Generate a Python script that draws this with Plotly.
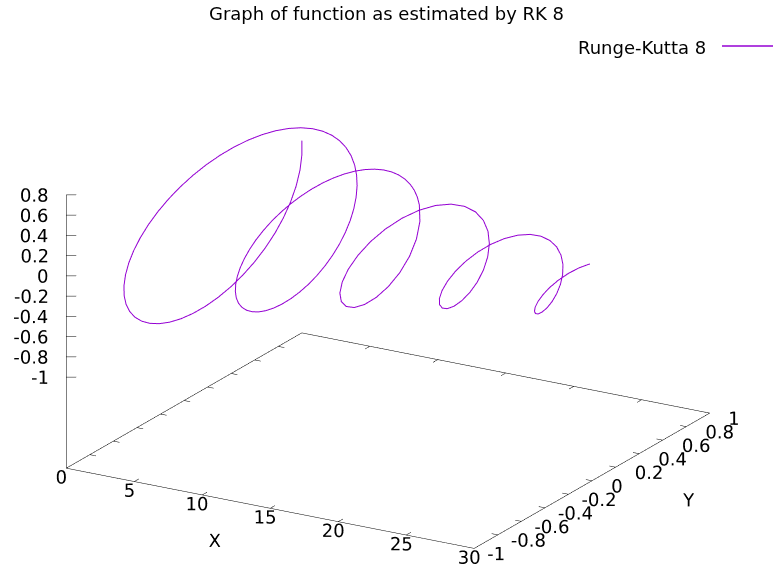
import plotly.graph_objects as go
import math

# ---------------- data (RK 8 solution samples) ----------------
x_vals = [0.000, 0.262, 0.524, 0.785, 1.047, 1.309, 1.571, 1.833, 2.094, 2.356, 2.618, 2.880,
          3.142, 3.403, 3.665, 3.927, 4.189, 4.451, 4.712, 4.974, 5.236, 5.498, 5.760, 6.021,
          6.283, 6.545, 6.807, 7.069, 7.330, 7.592, 7.854, 8.116, 8.378, 8.639, 8.901, 9.163,
          9.425, 9.687, 9.948, 10.210, 10.472, 10.734, 10.996, 11.257, 11.519, 11.781, 12.043, 12.305,
          12.566, 12.828, 13.090, 13.352, 13.614, 13.875, 14.137, 14.399, 14.661, 14.923, 15.184, 15.446,
          15.708, 15.970, 16.232, 16.493, 16.755, 17.017, 17.279, 17.541, 17.802, 18.064, 18.326, 18.588,
          18.850, 19.111, 19.373, 19.635, 19.897, 20.159, 20.420, 20.682, 20.944, 21.206, 21.468, 21.729,
          21.991, 22.253, 22.515, 22.777, 23.038, 23.300, 23.562, 23.824, 24.086, 24.347, 24.609, 24.871,
          25.133, 25.395, 25.656, 25.918, 26.180, 26.442, 26.704, 26.965, 27.227, 27.489, 27.751, 28.013,
          28.274, 28.536, 28.798, 29.060, 29.322, 29.583, 29.845]

y_vals = [1.0, 0.9539, 0.8445, 0.6810, 0.4755, 0.2431, 0.0, -0.2370, -0.4522, -0.6315, -0.7638, -0.8412,
          -0.8600, -0.8203, -0.7263, -0.5856, -0.4089, -0.2090, 0.0, 0.2039, 0.3889, 0.5431, 0.6569, 0.7235,
          0.7396, 0.7055, 0.6246, 0.5037, 0.3517, 0.1798, 0.0, -0.1753, -0.3345, -0.4671, -0.5649, -0.6222,
          -0.6361, -0.6068, -0.5372, -0.4332, -0.3025, -0.1546, 0.0, 0.1508, 0.2876, 0.4017, 0.4858, 0.5351,
          0.5471, 0.5218, 0.4620, 0.3725, 0.2601, 0.1330, 0.0, -0.1297, -0.2474, -0.3455, -0.4178, -0.4602,
          -0.4705, -0.4488, -0.3973, -0.3204, -0.2237, -0.1144, 0.0, 0.1115, 0.2127, 0.2971, 0.3593, 0.3958,
          0.4046, 0.3860, 0.3417, 0.2755, 0.1924, 0.0983, 0.0, -0.0959, -0.1830, -0.2555, -0.3090, -0.3404,
          -0.3480, -0.3319, -0.2939, -0.2370, -0.1655, -0.0846, 0.0, 0.0825, 0.1574, 0.2198, 0.2658, 0.2927,
          0.2993, 0.2855, 0.2527, 0.2038, 0.1423, 0.0727, 0.0, -0.0709, -0.1353, -0.1890, -0.2286, -0.2518,
          -0.2574, -0.2455, -0.2174, -0.1753, -0.1224, -0.0626, 0.0]

z_vals = [0.0, -0.2556, -0.4876, -0.6810, -0.8236, -0.9071, -0.9274, -0.8846, -0.7832, -0.6315, -0.4410, -0.2254,
          0.0, 0.2198, 0.4193, 0.5856, 0.7083, 0.7801, 0.7976, 0.7608, 0.6736, 0.5431, 0.3792, 0.1939,
          0.0, -0.1890, -0.3606, -0.5037, -0.6091, -0.6709, -0.6859, -0.6543, -0.5793, -0.4671, -0.3262, -0.1667,
          0.0, 0.1626, 0.3102, 0.4332, 0.5239, 0.5770, 0.5899, 0.5627, 0.4982, 0.4017, 0.2805, 0.1434,
          0.0, -0.1398, -0.2667, -0.3725, -0.4505, -0.4962, -0.5073, -0.4839, -0.4285, -0.3455, -0.2412, -0.1233,
          0.0, 0.1203, 0.2294, 0.3204, 0.3875, 0.4268, 0.4363, 0.4162, 0.3685, 0.2971, 0.2075, 0.1061,
          0.0, -0.1034, -0.1973, -0.2755, -0.3332, -0.3670, -0.3752, -0.3579, -0.3169, -0.2555, -0.1784, -0.0912,
          0.0, 0.0889, 0.1697, 0.2370, 0.2866, 0.3157, 0.3227, 0.3078, 0.2725, 0.2198, 0.1535, 0.0784,
          0.0, -0.0765, -0.1459, -0.2038, -0.2465, -0.2715, -0.2775, -0.2647, -0.2344, -0.1890, -0.1320, -0.0675,
          0.0, 0.0658, 0.1255, 0.1753, 0.2120, 0.2335, 0.2387]

# extra (half-step) samples on the two large first turns
x_half = [0.131, 0.393, 0.654, 0.916, 1.178, 1.440, 1.702, 1.963, 2.225, 2.487, 2.749, 3.011,
          3.272, 3.534, 3.796, 4.058, 4.320, 4.581, 4.843, 5.105, 5.367, 5.629, 5.890, 6.152,
          6.414, 6.676, 6.938, 7.199, 7.461, 7.723, 7.985, 8.247, 8.508, 8.770, 9.032, 9.294,
          9.556, 9.817, 10.079, 10.341, 10.603, 10.865, 11.126, 11.388, 11.650, 11.912, 12.174, 12.435]
y_half = [0.9852, 0.9066, 0.7688, 0.5826, 0.3616, 0.1218, -0.1203, -0.3483, -0.5471, -0.7041, -0.8097, -0.8580,
          -0.8473, -0.7797, -0.6612, -0.5010, -0.3110, -0.1048, 0.1035, 0.2995, 0.4705, 0.6055, 0.6963, 0.7379,
          0.7287, 0.6706, 0.5686, 0.4309, 0.2675, 0.0901, -0.0890, -0.2576, -0.4046, -0.5208, -0.5989, -0.6346,
          -0.6267, -0.5767, -0.4890, -0.3706, -0.2300, -0.0775, 0.0765, 0.2215, 0.3480, 0.4479, 0.5150, 0.5458]
z_half = [-0.1297, -0.3755, -0.5899, -0.7592, -0.8731, -0.9252, -0.9137, -0.8408, -0.7130, -0.5403, -0.3354, -0.1130,
          0.1116, 0.3230, 0.5074, 0.6529, 0.7509, 0.7957, 0.7858, 0.7231, 0.6132, 0.4646, 0.2884, 0.0972,
          -0.0959, -0.2778, -0.4363, -0.5615, -0.6458, -0.6843, -0.6758, -0.6219, -0.5273, -0.3996, -0.2481, -0.0836,
          0.0825, 0.2389, 0.3753, 0.4829, 0.5554, 0.5885, 0.5812, 0.5348, 0.4535, 0.3437, 0.2133, 0.0719]

x_ticks = [0, 5, 10, 15, 20, 25, 30]
x_tick_labels = ["0", "5", "10", "15", "20", "25", "30"]
y_ticks = [-1, -0.8, -0.6, -0.4, -0.2, 0, 0.2, 0.4, 0.6, 0.8, 1]
y_tick_labels = ["-1", "-0.8", "-0.6", "-0.4", "-0.2", "0", "0.2", "0.4", "0.6", "0.8", "1"]
z_ticks = [-1, -0.8, -0.6, -0.4, -0.2, 0, 0.2, 0.4, 0.6, 0.8]
z_tick_labels = ["-1", "-0.8", "-0.6", "-0.4", "-0.2", "0", "0.2", "0.4", "0.6", "0.8"]

title_text = "Graph of function as estimated by RK 8"
series_name = "Runge-Kutta 8"

# merge all samples in order of x
pts = sorted(zip(x_vals + x_half, y_vals + y_half, z_vals + z_half))
cx = [p[0] for p in pts]
cy = [p[1] for p in pts]
cz = [p[2] for p in pts]

# ---------------- axis geometry ----------------
X_MIN, X_MAX = 0, 30
Y_MIN, Y_MAX = -1, 1
Z_MIN, Z_MAX = -1, 0.8
TICSLEVEL = 0.5
Z_BASE = Z_MIN - TICSLEVEL * (Z_MAX - Z_MIN)

CURVE_COLOR = "#9400d3"
FONT = "DejaVu Sans"
FS = 18

xr = [-10, 40]
yr = [-1.6, 1.6]
zr = [-2.15, 1.05]
ZOOM = 1.79
ux, uy, uz = ZOOM / 30, ZOOM * 0.987 / 2, ZOOM * 0.614 / 2.7
aspect = dict(x=(xr[1] - xr[0]) * ux, y=(yr[1] - yr[0]) * uy, z=(zr[1] - zr[0]) * uz)

# screen-horizontal shift (per pixel) in data units, and vertical (per pixel, downwards)
HX, HY = 0.0549, 0.00217
VZ = -1 / 101

fig = go.Figure()

fig.add_trace(go.Scatter3d(x=cx, y=cy, z=cz, mode="lines",
                           line=dict(color=CURVE_COLOR, width=2),
                           name=series_name, hoverinfo="skip"))

bx = [X_MIN, X_MAX, X_MAX, X_MIN, X_MIN, None, X_MIN, X_MIN]
by = [Y_MIN, Y_MIN, Y_MAX, Y_MAX, Y_MIN, None, Y_MIN, Y_MIN]
bz = [Z_BASE] * 5 + [None, Z_BASE, Z_MAX]
fig.add_trace(go.Scatter3d(x=bx, y=by, z=bz, mode="lines",
                           line=dict(color="black", width=1), hoverinfo="skip"))

TL_Y = 0.04
TL_X = 0.45
tx, ty, tz = [], [], []
for v in x_ticks:
    tx += [v, v, None, v, v, None]
    ty += [Y_MIN, Y_MIN + TL_Y, None, Y_MAX, Y_MAX - TL_Y, None]
    tz += [Z_BASE, Z_BASE, None, Z_BASE, Z_BASE, None]
for v in y_ticks:
    tx += [X_MAX, X_MAX - TL_X, None, X_MIN, X_MIN + TL_X, None]
    ty += [v, v, None, v, v, None]
    tz += [Z_BASE, Z_BASE, None, Z_BASE, Z_BASE, None]
for v in z_ticks:
    tx += [X_MIN, X_MIN + 10 * HX, None]
    ty += [Y_MIN, Y_MIN + 10 * HY, None]
    tz += [v, v, None]
fig.add_trace(go.Scatter3d(x=tx, y=ty, z=tz, mode="lines",
                           line=dict(color="black", width=1), hoverinfo="skip"))

tf = dict(family=FONT, size=FS, color="black")
# x tick labels
fig.add_trace(go.Scatter3d(x=x_ticks, y=[Y_MIN - 0.043] * len(x_ticks), z=[Z_BASE - 0.056] * len(x_ticks),
                           mode="text", text=x_tick_labels, textposition="middle center",
                           textfont=tf, hoverinfo="skip"))
# y tick labels (numbers aligned as with gnuplot "% h" format)
yh = [-4 if v < 0 else 2.5 for v in y_ticks]
fig.add_trace(go.Scatter3d(x=[X_MAX + HX * h for h in yh], y=[v + HY * h for v, h in zip(y_ticks, yh)],
                           z=[Z_BASE + 5 * VZ] * len(y_ticks),
                           mode="text", text=y_tick_labels, textposition="middle right",
                           textfont=tf, hoverinfo="skip"))
# z tick labels
fig.add_trace(go.Scatter3d(x=[X_MIN - 1 * HX] * len(z_ticks), y=[Y_MIN - 1 * HY] * len(z_ticks), z=z_ticks,
                           mode="text", text=z_tick_labels, textposition="middle left",
                           textfont=tf, hoverinfo="skip"))
# axis titles
fig.add_trace(go.Scatter3d(x=[15, 37.1], y=[Y_MIN - 0.472, 0], z=[Z_BASE, Z_BASE],
                           mode="text", text=["X", "Y"], textposition="middle center",
                           textfont=tf, hoverinfo="skip"))

az = math.radians(-59.67)
el = math.radians(19.64)
R = 2.0
eye = dict(x=R * math.cos(el) * math.cos(az), y=R * math.cos(el) * math.sin(az), z=R * math.sin(el))

noax = dict(visible=False, showgrid=False, zeroline=False, showbackground=False, showspikes=False)
fig.update_layout(
    width=773, height=568,
    margin=dict(l=0, r=0, t=0, b=0),
    paper_bgcolor="white",
    showlegend=False,
    hovermode=False,
    title=dict(text=title_text, x=0.5, xref="paper", xanchor="center",
               y=1 - 14 / 568, yref="container", yanchor="middle",
               font=dict(family=FONT, size=FS, color="black")),
    scene=dict(
        domain=dict(x=[0.004, 1], y=[0, 0.9288]),
        xaxis=dict(range=xr, **noax),
        yaxis=dict(range=yr, **noax),
        zaxis=dict(range=zr, **noax),
        aspectmode="manual", aspectratio=aspect,
        camera=dict(eye=eye, up=dict(x=0, y=0, z=1), center=dict(x=0, y=0, z=0),
                    projection=dict(type="orthographic")),
        bgcolor="white",
    ),
    annotations=[dict(text=series_name, x=708 / 773, y=1 - 47 / 568, xref="paper", yref="paper",
                      xanchor="right", yanchor="middle", showarrow=False,
                      font=dict(family=FONT, size=FS, color="black"))],
    shapes=[dict(type="line", xref="paper", yref="paper", x0=722 / 773, x1=1.0,
                 y0=1 - 46 / 568, y1=1 - 46 / 568, line=dict(color=CURVE_COLOR, width=1.5))],
)

fig.write_html("out.html", config=dict(displayModeBar=False))
